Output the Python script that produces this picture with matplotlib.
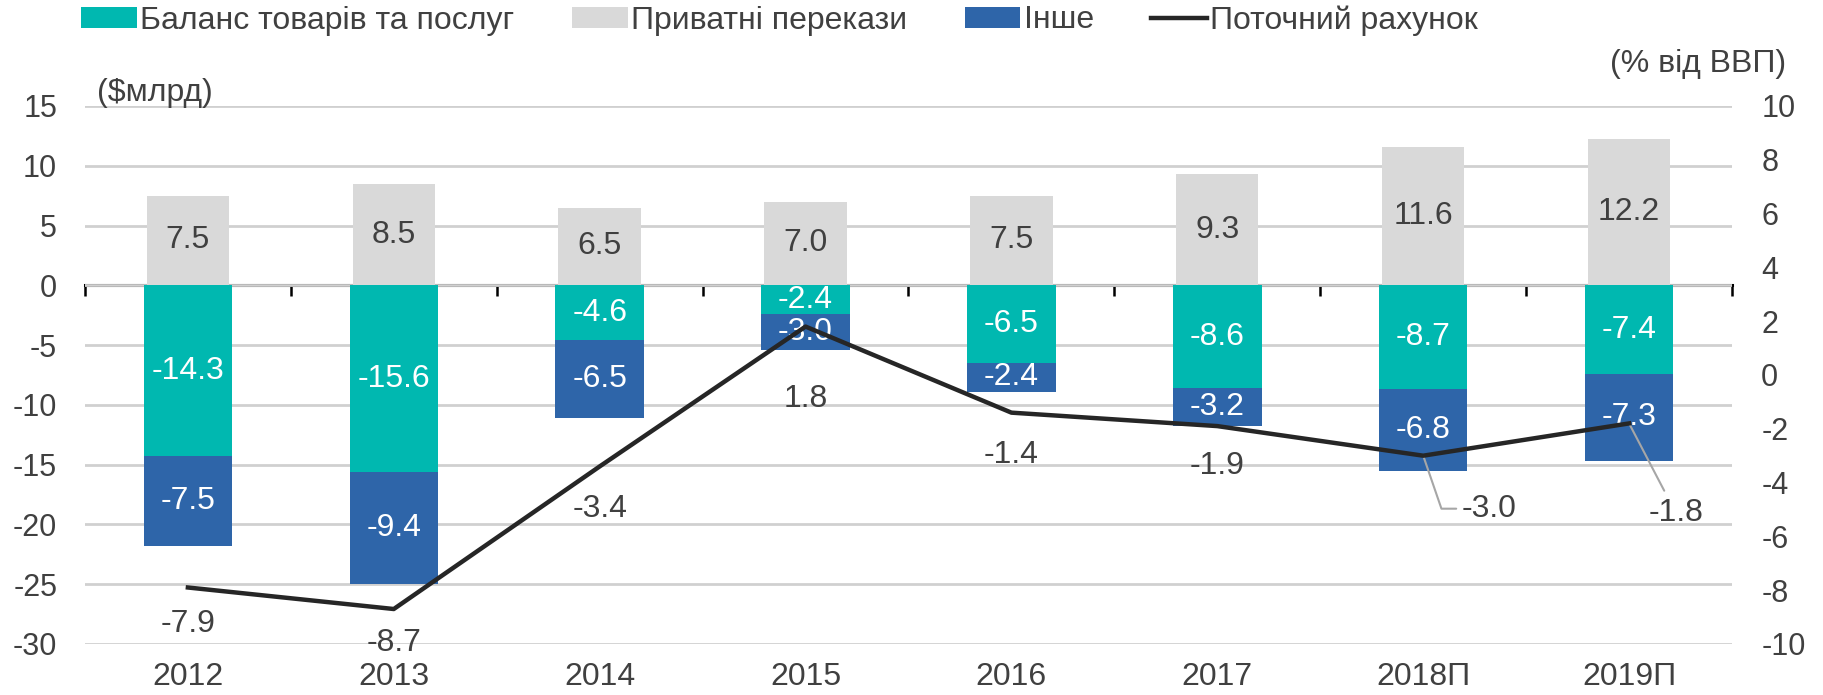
import matplotlib
matplotlib.use('Agg')
import matplotlib.pyplot as plt
import numpy as np
from matplotlib.patches import Patch
from matplotlib.lines import Line2D

# ---- data ----
years = ['2012', '2013', '2014', '2015', '2016', '2017', '2018П', '2019П']
remittances = [7.5, 8.5, 6.5, 7.0, 7.5, 9.3, 11.6, 12.2]          # Приватні перекази
goods_services = [-14.3, -15.6, -4.6, -2.4, -6.5, -8.6, -8.7, -7.4]  # Баланс товарів та послуг
other = [-7.5, -9.4, -6.5, -3.0, -2.4, -3.2, -6.8, -7.3]           # Інше
current_account = [-7.9, -8.7, -3.4, 1.8, -1.4, -1.9, -3.0, -1.8]  # Поточний рахунок, % ВВП

legend_labels = ['Баланс товарів та послуг', 'Приватні перекази', 'Інше', 'Поточний рахунок']

# label offsets for the line labels (pixels)
line_label_offsets = [(0, -37), (0, -34), (0, -43), (0, -72), (0, -42), (0, -40), (66, -53), (47, -90)]

plt.rcParams['font.family'] = ['Liberation Sans', 'DejaVu Sans']
plt.rcParams['axes.unicode_minus'] = False

TEAL = '#00B8B0'
BLUE = '#2E65A9'
GRAY = '#D9D9D9'
LINE = '#262626'
TXT = '#404040'
FS = 23      # data labels, x labels, legend
FS_Y = 22    # y tick labels

fig = plt.figure(figsize=(18.23, 6.95), dpi=100)
ax = fig.add_axes([0.0466, 0.0734, 0.9035, 0.7741])
x = np.arange(len(years))

b_rem = ax.bar(x, remittances, width=0.40, color=GRAY, zorder=2)
b_gs = ax.bar(x, goods_services, width=0.43, color=TEAL, zorder=2)
b_ot = ax.bar(x, other, bottom=goods_services, width=0.43, color=BLUE, zorder=2)

ax.bar_label(b_rem, labels=[f'{v:.1f}' for v in remittances], label_type='center', color=TXT, fontsize=FS)
ax.bar_label(b_gs, labels=[f'{v:.1f}' for v in goods_services], label_type='center', color='white', fontsize=FS)
ax.bar_label(b_ot, labels=[f'{v:.1f}' for v in other], label_type='center', color='white', fontsize=FS)

ax.set_xlim(-0.5, len(years) - 0.5)
ax.set_ylim(-30, 15)
ax.set_yticks(np.arange(-30, 16, 5))
ax.set_xticks(x)
ax.set_xticklabels(years)
ax.grid(axis='y', color='#D0D0D0', lw=2, zorder=0)
ax.set_axisbelow(True)
for s in ax.spines.values():
    s.set_visible(False)
ax.tick_params(axis='y', length=0, pad=20, labelsize=FS_Y, labelcolor=TXT)
ax.tick_params(axis='x', length=0, pad=13, labelsize=FS, labelcolor=TXT)

# zero line with category-boundary ticks
ylo, yhi = ax.get_ylim()
sec = ax.secondary_xaxis((0 - ylo) / (yhi - ylo))
sec.set_xticks(np.arange(-0.5, len(years), 1.0))
sec.set_xticklabels([])
sec.set_alignment('bottom')
sec.tick_params(axis='x', direction='out', length=8, width=1.8, color='black')
for s in sec.spines.values():
    s.set_linewidth(2.2)
    s.set_color('black')

# right axis: current account
ax2 = ax.twinx()
ax2.set_ylim(-10, 10)
ax2.set_yticks(np.arange(-10, 11, 2))
for s in ax2.spines.values():
    s.set_visible(False)
ax2.tick_params(axis='y', length=0, pad=21, labelsize=FS_Y, labelcolor=TXT)
ax2.plot(x, current_account, color=LINE, lw=3.2, zorder=5)

for i, (v, off) in enumerate(zip(current_account, line_label_offsets)):
    if i == len(years) - 2:
        ax2.annotate(f'{v:.1f}', xy=(x[i], v), xytext=off, textcoords='offset pixels',
                     ha='center', va='center', fontsize=FS, color=TXT,
                     arrowprops=dict(arrowstyle='-', color='#A6A6A6', lw=1.5, shrinkA=2, shrinkB=0,
                                     connectionstyle='angle,angleA=0,angleB=-71'))
    elif i == len(years) - 1:
        ax2.annotate(f'{v:.1f}', xy=(x[i], v), xytext=off, textcoords='offset pixels',
                     ha='center', va='center', fontsize=FS, color=TXT,
                     arrowprops=dict(arrowstyle='-', color='#A6A6A6', lw=1.5, shrinkA=4, shrinkB=0))
    else:
        ax2.annotate(f'{v:.1f}', xy=(x[i], v), xytext=off, textcoords='offset pixels',
                     ha='center', va='center', fontsize=FS, color=TXT)

# axis unit labels
fig.text(97 / 1823, 1 - 93 / 695, '($млрд)', ha='left', va='center', fontsize=FS, color=TXT)
fig.text(1786 / 1823, 1 - 64 / 695, '(% від ВВП)', ha='right', va='center', fontsize=FS, color=TXT)

handles = [Patch(facecolor=TEAL), Patch(facecolor=GRAY), Patch(facecolor=BLUE),
           Line2D([], [], color=LINE, lw=3.2)]
fig.legend(handles=handles, labels=legend_labels, loc='upper left',
           bbox_to_anchor=(81 / 1823, 1 - 5 / 695), ncol=4, frameon=False, fontsize=FS,
           handlelength=1.75, handleheight=0.63, handletextpad=0.1, columnspacing=1.8,
           borderaxespad=0, borderpad=0, labelcolor=TXT)

fig.savefig('out.png', dpi=100)
